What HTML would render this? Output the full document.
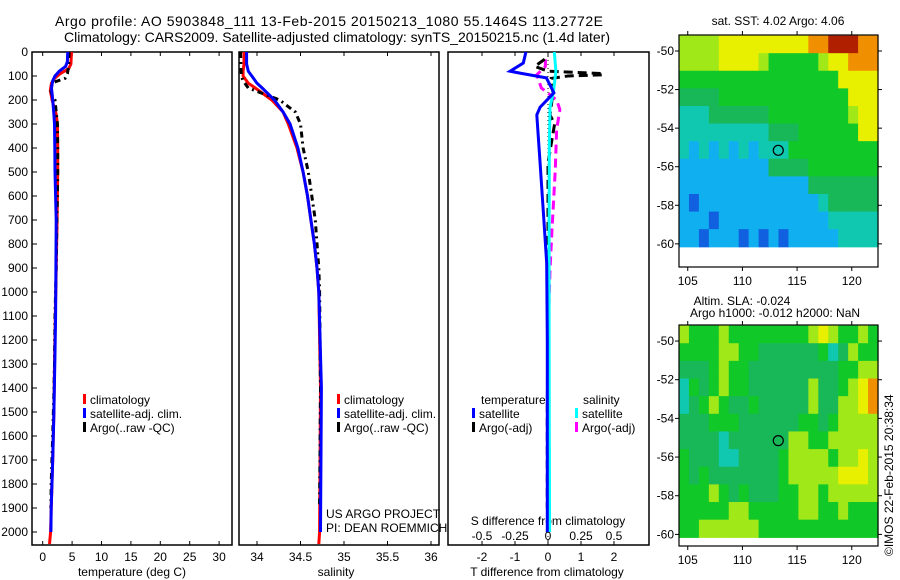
<!DOCTYPE html>
<html><head><meta charset="utf-8">
<style>
html,body{margin:0;padding:0;background:#fff;}
svg{display:block;font-family:"Liberation Sans",sans-serif;}
svg text{fill:#000;}
</style></head>
<body>
<svg id="chart" width="900" height="580" xmlns="http://www.w3.org/2000/svg">
<g id="titles" font-size="14">
<text x="329" y="26" text-anchor="middle" textLength="548">Argo profile: AO 5903848_111 13-Feb-2015 20150213_1080 55.1464S 113.2772E</text>
<text x="337" y="42" text-anchor="middle" textLength="546">Climatology: CARS2009. Satellite-adjusted climatology: synTS_20150215.nc (1.4d later)</text>
</g>
<g id="layer"></g>
</svg>
<script>
// ---------- data ----------
var tClimDepth=[0,50,70,90,110,130,160,200,260,300,400,500,600,700,900,1100,1300,1500,1700,1900,2000,2050];
var tClimVal=[4.9,4.8,4.4,3.0,2.0,1.5,1.3,1.6,2.3,2.5,2.55,2.55,2.5,2.45,2.3,2.15,2.0,1.9,1.7,1.45,1.35,1.15];
var tSatDepth=[0,40,60,80,100,120,150,200,260,300,400,500,700,900,1100,1300,1500,1700,1900,2000];
var tSatVal=[4.25,4.2,3.9,2.8,2.1,1.7,1.5,1.7,1.9,2.0,2.05,2.1,2.3,2.25,2.2,2.05,1.9,1.7,1.45,1.4];
var tArgoDepth=[0,60,90,110,125,150,180,200,300,400,500,600,700,900,1100,1300,1420,1600,1800,1900];
var tArgoVal=[4.5,4.4,4.2,3.8,2.0,1.25,1.6,2.1,2.5,2.55,2.55,2.5,2.4,2.3,2.1,2.0,1.9,1.7,1.45,1.4];
var sClimDepth=[0,50,80,100,130,150,200,250,300,400,500,600,700,800,900,1000,1400,2000,2050];
var sClimVal=[33.85,33.85,33.84,33.84,33.9,33.98,34.17,34.3,34.36,34.46,34.53,34.58,34.62,34.66,34.69,34.71,34.73,34.72,34.71];
var sSatDepth=[0,50,80,100,130,150,200,250,300,400,500,600,700,800,900,1000,1400,2000];
var sSatVal=[33.88,33.88,33.9,33.94,34.0,34.06,34.2,34.3,34.38,34.47,34.53,34.58,34.62,34.66,34.69,34.71,34.74,34.73];
var sArgoDepth=[0,100,120,150,200,250,300,400,500,600,700,800,900,1000,1400,1900];
var sArgoVal=[33.81,33.82,33.84,33.9,34.26,34.44,34.5,34.53,34.59,34.63,34.67,34.69,34.71,34.72,34.73,34.72];
var dTSatDepth=[0,46,80,88,108,170,230,262,463,670,880,1200,1600,2000];
var dTSatVal=[-0.67,-0.75,-1.15,-0.85,-0.05,0.18,-0.24,-0.34,-0.24,-0.14,-0.04,-0.02,-0.02,-0.02];
var dSSatDepth=[0,80,170,230,400,800,1200,1600,2000];
var dSSatVal=[0.048,0.06,0.04,0.015,0.01,0.008,0.008,0.01,0.012];
var dTArgoDepth=[30,60,80,90,95,100,110,170,262,300,463,700,1000,1500,1900];
var dTArgoVal=[-0.1,-0.4,0.0,1.67,1.67,0.6,0.1,0.15,0.06,0.2,0.0,0.0,0.0,-0.02,-0.02];
var dSArgoDepth=[30,60,95,150,200,240,325,490,740,910,1200,1600,1900];
var dSArgoVal=[-0.02,-0.02,-0.085,-0.05,0.065,0.09,0.065,0.055,0.03,0.015,0.0,0.0,0.0];
var depthTicks=[0,100,200,300,400,500,600,700,800,900,1000,1100,1200,1300,1400,1500,1600,1700,1800,1900,2000];
var tempTicks=[0,5,10,15,20,25,30];
var salTicks=[34,34.5,35,35.5,36];
var salTickLabels=["34","34.5","35","35.5","36"];
var dTTicks=[-2,-1,0,1,2];
var dSTicks=[-0.5,-0.25,0,0.25,0.5];
var dSTickLabels=["-0.5","-0.25","0","0.25","0.5"];
var latTicks=[-50,-52,-54,-56,-58,-60];
var lonTicks=[105,110,115,120];
var sstGrid=[
"66667777777778899988",
"66667777655555677888",
"55555555555555557777",
"44445555555555555777",
"33344444455555555677",
"33333333344455555577",
"32323232333555555555",
"22222222244445555555",
"22222222222224444444",
"21222222222222344444",
"22212222222222233333",
"22122212121222223333"];
var slaGrid=[
"65556555555556765565",
"55556655444444534655",
"44456554444444445566",
"35456554444446445678",
"34565445444446446678",
"44455544444455456666",
"44443444444665566666",
"54443344445666656676",
"54544444445666667776",
"55565454445566566666",
"55555665555566556555",
"55666666555555555555"];
var argoLon=113.28, argoLat=-55.15;

// ---------- helpers ----------
var NS="http://www.w3.org/2000/svg";
var layer=document.getElementById('layer');
function el(tag,attrs,parent){var e=document.createElementNS(NS,tag);for(var k in attrs)e.setAttribute(k,attrs[k]);(parent||layer).appendChild(e);return e;}
function yD(d){return 52+d*0.24;}
var PY0=52,PY1=545;
function xT(v){return 42.7+5.88*v;}
function xS(v){return 257+87*(v-34);}
function xDT(v){return 548+33*v;}
function xDS(v){return 548+132*v;}
function poly(xs,ds,fx,color,dash,w,name,parent){
  var pts=[];for(var i=0;i<xs.length;i++)pts.push(fx(xs[i]).toFixed(1)+','+yD(ds[i]).toFixed(1));
  var p=el('polyline',{points:pts.join(' '),fill:'none',stroke:color,'stroke-width':w||3,'stroke-dasharray':dash||'none'},parent);
  
  
  return p;
}
function txt(x,y,s,anchor,size,parent){var t=el('text',{x:x,y:y,'font-size':size||12,'text-anchor':anchor||'start'},parent);t.textContent=s;return t;}

var panels=[[32,232,'temperature-panel'],[239,439,'salinity-panel'],[448,649,'difference-panel']];
panels.forEach(function(p){
  var g=el('g',{});
  
  
  var r=el('rect',{x:p[0],y:PY0,width:p[1]-p[0],height:PY1-PY0,fill:'none',stroke:'#000','stroke-width':1.5},g);
  
  
  p.push(g);
});
var g1=panels[0][3],g2=panels[1][3],g3=panels[2][3];
depthTicks.forEach(function(d){
  el('line',{x1:32,x2:37,y1:yD(d),y2:yD(d),stroke:'#000'},g1);
  var t=txt(28,yD(d)+4,String(d),'end',12,g1);
  
  
});
tempTicks.forEach(function(v){
  el('line',{x1:xT(v),x2:xT(v),y1:PY1,y2:PY1-4,stroke:'#000'},g1);
  el('line',{x1:xT(v),x2:xT(v),y1:PY0,y2:PY0+4,stroke:'#000'},g1);
  var t=txt(xT(v),561,String(v),'middle',12,g1);
  
  
});
var at=txt(132,576,'temperature (deg C)','middle',12,g1);


salTicks.forEach(function(v,i){
  el('line',{x1:xS(v),x2:xS(v),y1:PY1,y2:PY1-4,stroke:'#000'},g2);
  el('line',{x1:xS(v),x2:xS(v),y1:PY0,y2:PY0+4,stroke:'#000'},g2);
  var t=txt(xS(v),561,salTickLabels[i],'middle',12,g2);
  
  
});
var as=txt(336,576,'salinity','middle',12,g2);


dTTicks.forEach(function(v){
  el('line',{x1:xDT(v),x2:xDT(v),y1:PY1,y2:PY1-4,stroke:'#000'},g3);
  el('line',{x1:xDT(v),x2:xDT(v),y1:PY0,y2:PY0+4,stroke:'#000'},g3);
  var t=txt(xDT(v),561,String(v),'middle',12,g3);
  
  
});
dSTicks.forEach(function(v,i){
  var t=txt(xDS(v),540,dSTickLabels[i],'middle',12,g3);
  
  
});
var adt=txt(547,576,'T difference from climatology','middle',12,g3);


var ads=txt(548,525,'S difference from climatology','middle',12,g3);


var zl=el('line',{x1:548,x2:548,y1:PY0,y2:PY1,stroke:'#000','stroke-width':1,'stroke-dasharray':'1,3'},g3);



poly(tClimVal,tClimDepth,xT,'#ff0000',null,3,'temperature-climatology-line',g1);
poly(tArgoVal,tArgoDepth,xT,'#000',"6,4,2,4",3,'temperature-argo-line',g1);
poly(tSatVal,tSatDepth,xT,'#0000ff',null,3,'temperature-satellite-line',g1);
poly(sClimVal,sClimDepth,xS,'#ff0000',null,3,'salinity-climatology-line',g2);
poly(sArgoVal,sArgoDepth,xS,'#000',"6,4,2,4",3,'salinity-argo-line',g2);
poly(sSatVal,sSatDepth,xS,'#0000ff',null,3,'salinity-satellite-line',g2);
poly(dSArgoVal,dSArgoDepth,xDS,'#ff00ff',"9,5",3,'s-difference-argo-line',g3);
poly(dTArgoVal,dTArgoDepth,xDT,'#000',"9,5",3,'t-difference-argo-line',g3);
poly(dSSatVal,dSSatDepth,xDS,'#00ffff',null,3,'s-difference-satellite-line',g3);
poly(dTSatVal,dTSatDepth,xDT,'#0000ff',null,3,'t-difference-satellite-line',g3);

function legend(g,x,y,color,label,name){
  var lg=el('g',{},g);
  
  
  el('rect',{x:x,y:y-10,width:3,height:10,fill:color},lg);
  txt(x+7,y,label,'start',12,lg);
}
legend(g1,83,404,'#ff0000','climatology','legend-climatology');
legend(g1,83,418,'#0000ff','satellite-adj. clim.','legend-satellite-adj');
legend(g1,83,432,'#000','Argo(..raw -QC)','legend-argo');
legend(g2,337,404,'#ff0000','climatology','legend-climatology-sal');
legend(g2,337,418,'#0000ff','satellite-adj. clim.','legend-satellite-adj-sal');
legend(g2,337,432,'#000','Argo(..raw -QC)','legend-argo-sal');
var lt=txt(481,404,'temperature','start',12,g3);


var ls=txt(583,404,'salinity','start',12,g3);


legend(g3,472,418,'#0000ff','satellite','legend-t-satellite');
legend(g3,472,432,'#000','Argo(-adj)','legend-t-argo');
legend(g3,575,418,'#00ffff','satellite','legend-s-satellite');
legend(g3,575,432,'#ff00ff','Argo(-adj)','legend-s-argo');
var c1=txt(326,518,'US ARGO PROJECT','start',12,g2);


var c2=txt(326,532,'PI: DEAN ROEMMICH','start',12,g2);



var palette=['#0010a0','#1060e0','#10b0f0','#10c8b0','#18b858','#10c828','#a0e818','#e8f000','#f09000','#b02000'];
var LON0=104.2,LON1=122.4,LAT0=-49.2,LATD=-60.15;
function drawMap(grid,x0,x1,yTop,yBot,latTop,latBot,name){
  var g=el('g',{});
  
  
  function mx(lon){return x0+(lon-LON0)/(LON1-LON0)*(x1-x0);}
  function my(lat){return yTop+(lat-latTop)/(latBot-latTop)*(yBot-yTop);}
  var rows=grid.length,cols=grid[0].length;
  var cw=(mx(LON1)-mx(LON0))/cols, ch=(my(LATD)-my(LAT0))/rows;
  for(var r=0;r<rows;r++)for(var c=0;c<cols;c++){
    var cell=el('rect',{x:(mx(LON0)+c*cw).toFixed(2),y:(my(LAT0)+r*ch).toFixed(2),width:(cw+0.6).toFixed(2),height:(ch+0.6).toFixed(2),fill:palette[+grid[r][c]]},g);
    
    
  }
  var fr=el('rect',{x:x0,y:yTop,width:x1-x0,height:yBot-yTop,fill:'none',stroke:'#000','stroke-width':1.2},g);
  
  
  latTicks.forEach(function(v){
    el('line',{x1:x0-4,x2:x0,y1:my(v),y2:my(v),stroke:'#000'},g);
    el('line',{x1:x1,x2:x1+4,y1:my(v),y2:my(v),stroke:'#000'},g);
    var t=txt(x0-5,my(v)+4,String(v),'end',12,g);
    
    
  });
  lonTicks.forEach(function(v){
    el('line',{x1:mx(v),x2:mx(v),y1:yBot,y2:yBot+4,stroke:'#000'},g);
    el('line',{x1:mx(v),x2:mx(v),y1:yTop,y2:yTop-4,stroke:'#000'},g);
    var t=txt(mx(v),yBot+18,String(v),'middle',12,g);
    
    
  });
  var ci=el('circle',{cx:mx(argoLon),cy:my(argoLat),r:5,fill:'none',stroke:'#000','stroke-width':1.2},g);
  
  
}
drawMap(sstGrid,679,878,35,267,-49.17,-61.2,'sst-map');
drawMap(slaGrid,679,878,325,546,-49.17,-60.6,'sla-map');
var m1=txt(778,25,'sat. SST: 4.02  Argo: 4.06','middle',12);


var m2=txt(742,305,'Altim. SLA: -0.024','middle',12);


var m3=txt(775,317,'Argo h1000: -0.012 h2000: NaN','middle',12);


var cr=txt(0,0,'\u00A9IMOS 22-Feb-2015 20:38:34','start',12);
cr.setAttribute('transform','translate(893,556) rotate(-90)');


</script>
</body></html>
